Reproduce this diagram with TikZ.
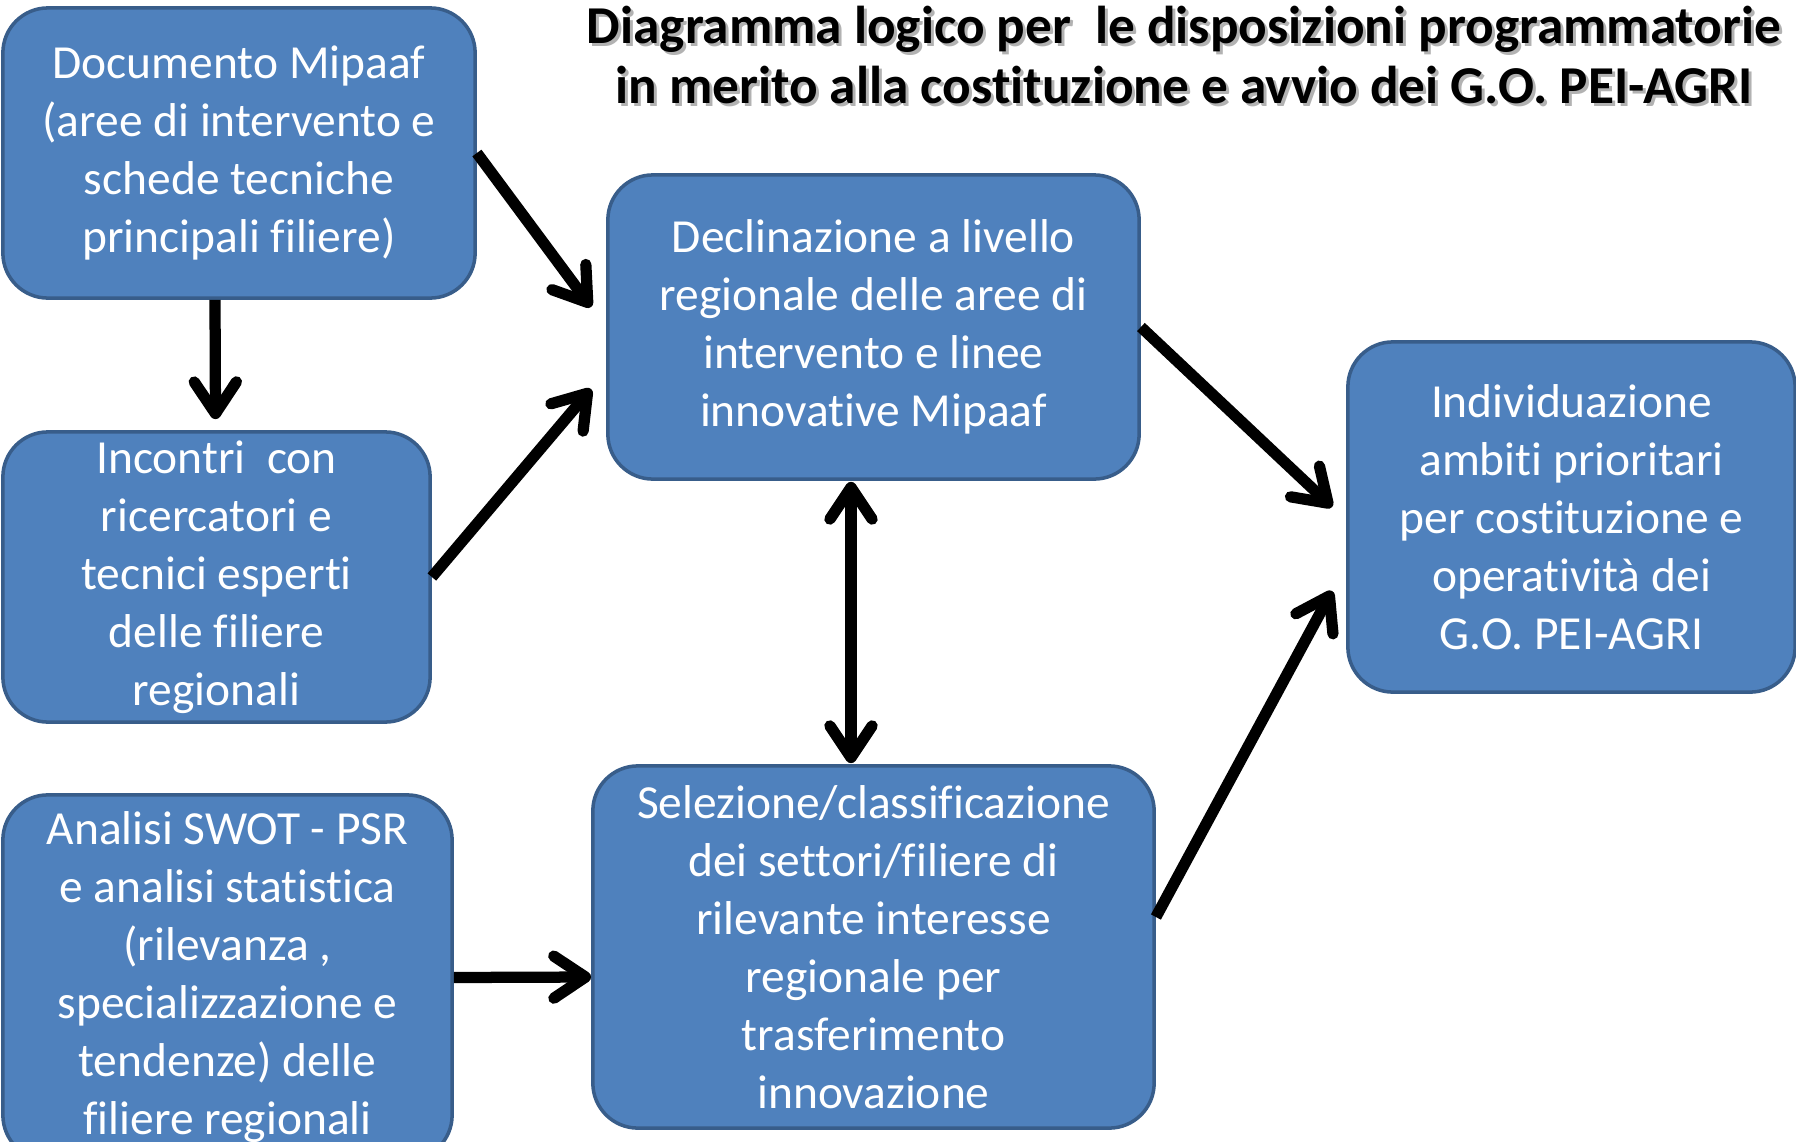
\documentclass[tikz,border=0pt]{standalone}
\usepackage{fontspec}
\setmainfont{Carlito}[Ligatures=NoCommon]
\usetikzlibrary{calc,arrows.meta}
\definecolor{boxfill}{HTML}{4F81BD}
\definecolor{boxline}{HTML}{385D8A}
\tikzset{
	box/.style={draw=boxline, line width=1pt, fill=boxfill, rounded corners=0.45cm,
		text=white, align=center, inner sep=0pt, font=\fontsize{13.5}{16.5}\selectfont},
	arr/.style={line width=3.2pt, -{Straight Barb[round,length=9pt,width=12pt]}},
	biarr/.style={line width=3.2pt, {Straight Barb[round,length=9pt,width=12pt]}-{Straight Barb[round,length=9pt,width=12pt]}},
	titletext/.style={align=center, font=\fontsize{15.15}{17.3}\selectfont\bfseries}
}

\begin{document}
\begin{tikzpicture}[x=0.01cm, y=-0.01cm]
			%%%%% START %%%%%
			\path[use as bounding box, clip] (0,0) rectangle (1796,1142);
			
			% title
			\node[titletext, text=black!30] (titleshadow) at (1187,58) {Diagramma logico per\ \ le disposizioni programmatorie\\in merito alla costituzione e avvio dei G.O. PEI-AGRI};
			\node[titletext] (title) at (1184,55) {Diagramma logico per\ \ le disposizioni programmatorie\\in merito alla costituzione e avvio dei G.O. PEI-AGRI};
			
			% left column
			\node[box, minimum width=4.72cm, minimum height=2.90cm] (mipaaf) at (239,153) {Documento Mipaaf\\(aree di intervento e\\schede tecniche\\principali filiere)};
			\node[box, minimum width=4.27cm, minimum height=2.90cm] (incontri) at (216.5,577) {Incontri\ \ con\\ricercatori e\\tecnici esperti\\delle filiere\\regionali};
			\node[box, minimum width=4.49cm, minimum height=3.65cm] (swot) at (227.5,977.5) {Analisi SWOT - PSR\\e analisi statistica\\(rilevanza ,\\specializzazione e\\tendenze) delle\\filiere regionali};
			
			% middle column
			\node[box, minimum width=5.31cm, minimum height=3.04cm] (declinazione) at (873.5,327) {Declinazione a livello\\regionale delle aree di\\intervento e linee\\innovative Mipaaf};
			\node[box, minimum width=5.61cm, minimum height=3.62cm] (selezione) at (873.5,947) {Selezione/classificazione\\dei settori/filiere di\\rilevante interesse\\regionale per\\trasferimento\\innovazione};
			
			% right
			\node[box, minimum width=4.47cm, minimum height=3.50cm] (ambiti) at (1571.5,517) {Individuazione\\ambiti prioritari\\per costituzione e\\operatività dei\\G.O. PEI-AGRI};
			
			% arrows
			\draw[arr] (mipaaf.east) -- ($(declinazione.west)+(-15,-20)$);
			\draw[arr] ($(mipaaf.south)+(-24,0)$) -- ($(incontri.north)+(-1,-11)$);
			\draw[arr] (incontri.east) -- ($(declinazione.west)+(-15,62)$);
			\draw[arr] (swot.east) -- ($(selezione.west)+(0,30)$);
			\draw[arr] (declinazione.east) -- ($(ambiti.west)+(-14,-10)$);
			\draw[arr] ($(selezione.east)+(0,-30)$) -- ($(ambiti.west)+(-14,74)$);
			\draw[biarr] ($(declinazione.south)+(-22.5,1)$) -- ($(selezione.north)+(-22.5,-1)$);
			
			%%%%% END %%%%%
\end{tikzpicture}
\end{document}
